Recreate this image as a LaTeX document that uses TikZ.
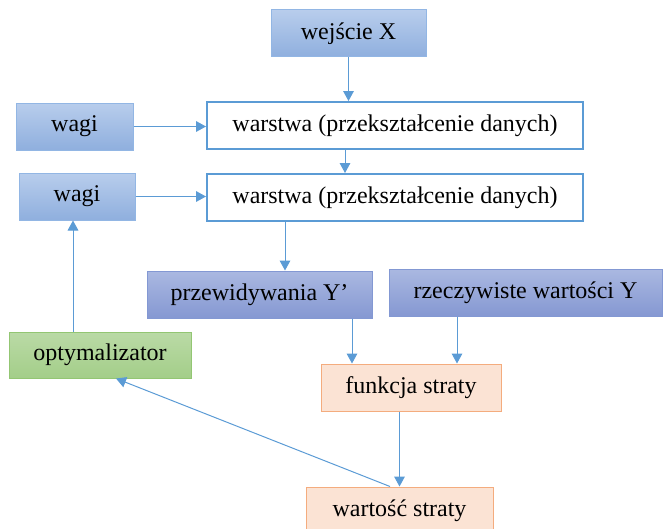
\documentclass[tikz,border=0pt]{standalone}
\usepackage{fontspec}
\setmainfont{Liberation Serif}
\usepackage{tikz}
\usetikzlibrary{arrows.meta,positioning}
\definecolor{nnline}{HTML}{5B9BD5}
\definecolor{nnbluetop}{HTML}{B8CDEC}
\definecolor{nnbluebot}{HTML}{8FAFDE}
\definecolor{nnblueedge}{HTML}{92B6E4}
\definecolor{nnpurptop}{HTML}{AAB8E1}
\definecolor{nnpurpbot}{HTML}{8598D2}
\definecolor{nnpurpedge}{HTML}{8398D3}
\definecolor{nngreentop}{HTML}{BADAA6}
\definecolor{nngreenbot}{HTML}{A3CE89}
\definecolor{nngreenedge}{HTML}{93C673}
\definecolor{nnorange}{HTML}{FBE3D4}
\definecolor{nnorangeedge}{HTML}{F4AC7E}

\begin{document}
\begin{tikzpicture}[
  x=0.75pt, y=-0.75pt,
  box/.style={rectangle, inner sep=0pt, minimum height=35.25pt, align=center,
    font=\fontsize{18}{22}\selectfont, line width=0.75pt},
  inbox/.style={box, draw=nnblueedge, top color=nnbluetop, bottom color=nnbluebot},
  layerbox/.style={box, draw=nnline, fill=white, line width=1.5pt, minimum width=282pt},
  predbox/.style={box, draw=nnpurpedge, top color=nnpurptop, bottom color=nnpurpbot},
  optbox/.style={box, draw=nngreenedge, top color=nngreentop, bottom color=nngreenbot},
  lossbox/.style={box, draw=nnorangeedge, fill=nnorange},
  arrow/.style={-{Triangle[length=7.5pt,width=8pt]}, draw=nnline, line width=0.75pt}
]
\useasboundingbox (0,0) rectangle (663,528);
\node[inbox, minimum width=116.25pt] (input) at (348.5,33.5) {wejście X};
\node[inbox, minimum width=87.75pt] (weights1) at (74.5,126.5) {wagi};
\node[layerbox] (layer1) at (395,125.5) {warstwa (przekształcenie danych)};
\node[inbox, minimum width=87pt] (weights2) at (77,196.5) {wagi};
\node[layerbox] (layer2) at (395,197.5) {warstwa (przekształcenie danych)};
\node[predbox, minimum width=168.75pt] (pred) at (259.5,294.5) {przewidywania Y’};
\node[predbox, minimum width=204.75pt] (truth) at (525.5,292.5) {rzeczywiste wartości Y};
\node[optbox, minimum width=136.5pt, minimum height=34.5pt] (opt) at (100,355) {optymalizator};
\node[lossbox, minimum width=135pt] (loss) at (411,387.5) {funkcja straty};
\node[lossbox, minimum width=140.25pt] (value) at (399.5,510.5) {wartość straty};
% forward pass
\draw[arrow] (input.south) -- (input.south |- layer1.north);
\draw[arrow] (weights1.east) -- (weights1.east -| layer1.west);
\draw[arrow] (layer1.south -| 345,0) -- (layer2.north -| 345,0);
\draw[arrow] (weights2.east) -- (weights2.east -| layer2.west);
\draw[arrow] (layer2.south -| 285,0) -- (pred.north -| 285,0);
% loss
\draw[arrow] (pred.south -| 352,0) -- (loss.north -| 352,0);
\draw[arrow] (truth.south -| 457,0) -- (loss.north -| 457,0);
\draw[arrow] (value.north |- loss.south) -- (value.north);
% feedback
\draw[arrow] (value.north -| 390,0) -- (opt.south -| 116,0);
\draw[arrow] (opt.north -| 73,0) -- (weights2.south -| 73,0);
\end{tikzpicture}
\end{document}
